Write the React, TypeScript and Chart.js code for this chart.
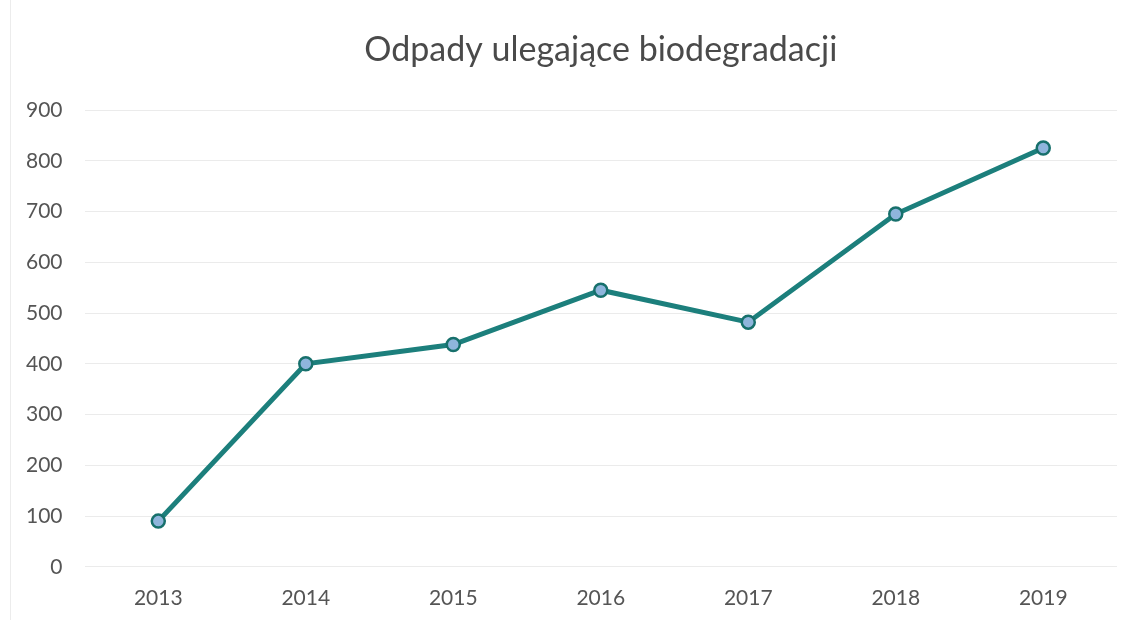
import React, { useEffect, useRef } from "react";
import { Chart, registerables } from "chart.js";

Chart.register(...registerables);

const years = ["2013", "2014", "2015", "2016", "2017", "2018", "2019"];
const values = [90, 400, 438, 545, 482, 695, 825];
const yMin = 0;
const yMax = 900;
const yStep = 100;
const titleText = "Odpady ulegające biodegradacji";

const FONT = "Lato, 'Open Sans', 'Liberation Sans', sans-serif";

const centeredTitle = {
  id: "centeredTitle",
  afterDraw(chart: any) {
    const { ctx, chartArea } = chart;
    ctx.save();
    ctx.font = `34px ${FONT}`;
    ctx.fillStyle = "#4a4a4a";
    ctx.textAlign = "center";
    ctx.textBaseline = "middle";
    ctx.fillText(titleText, (chartArea.left + chartArea.right) / 2, 50);
    ctx.restore();
  },
};

export default function App() {
  const ref = useRef<HTMLCanvasElement>(null);
  useEffect(() => {
    if (!ref.current) return;
    const chart = new Chart(ref.current, {
      type: "line",
      data: {
        labels: years,
        datasets: [
          {
            data: values,
            borderColor: "#1c7f7c",
            borderWidth: 5,
            pointRadius: 6.5,
            pointBorderWidth: 2.5,
            pointBackgroundColor: "#8fb5dc",
            pointBorderColor: "#17706c",
            tension: 0,
          },
        ],
      },
      plugins: [centeredTitle],
      options: {
        animation: false,
        responsive: false,
        maintainAspectRatio: false,
        layout: { padding: { left: 4, right: 16, top: 110, bottom: -2 } },
        plugins: {
          legend: { display: false },
          tooltip: { enabled: false },
          title: { display: false },
        },
        scales: {
          x: {
            offset: true,
            grid: { display: false },
            border: { display: false },
            ticks: {
              color: "#555555",
              font: { family: FONT, size: 21 },
              padding: 11,
            },
          },
          y: {
            min: yMin,
            max: yMax,
            ticks: {
              stepSize: yStep,
              color: "#555555",
              font: { family: FONT, size: 21 },
              padding: 22,
            },
            grid: { color: "#ebebeb", lineWidth: 1, drawTicks: false },
            border: { display: false },
          },
        },
      },
    });
    return () => chart.destroy();
  }, []);
  return (
    <div
      style={{
        position: "fixed",
        left: 0,
        top: 0,
        width: 1133,
        height: 620,
        background: "#fff",
      }}
    >
      <div
        style={{
          position: "absolute",
          left: 10,
          top: 0,
          width: 1,
          height: 620,
          background: "#ececec",
        }}
      />
      <canvas ref={ref} width={1133} height={620} style={{ display: "block" }} />
    </div>
  );
}
